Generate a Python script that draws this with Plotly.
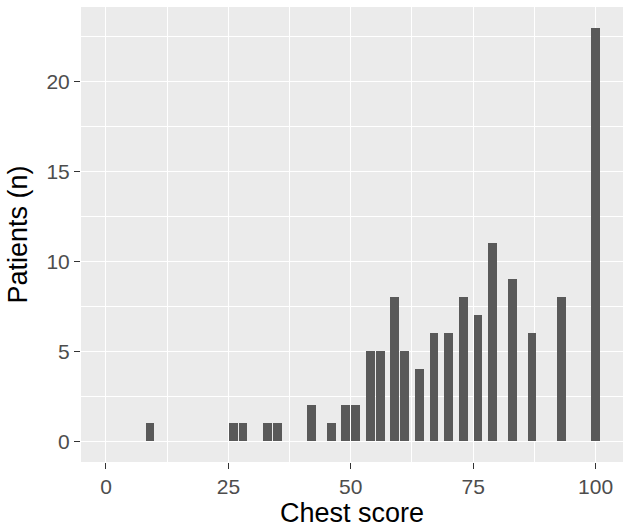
import plotly.graph_objects as go

chest_score = [9, 26, 28, 33, 35, 42, 46, 49, 51, 54, 56, 59, 61, 64, 67, 70, 73, 76, 79, 83, 87, 93, 100]
patients = [1, 1, 1, 1, 1, 2, 1, 2, 2, 5, 5, 8, 5, 4, 6, 6, 8, 7, 11, 9, 6, 8, 23]

x_ticks = [0, 25, 50, 75, 100]
y_ticks = [0, 5, 10, 15, 20]
x_minor = [12.5, 37.5, 62.5, 87.5]
y_minor = [2.5, 7.5, 12.5, 17.5, 22.5]
x_title = "Chest score"
y_title = "Patients (n)"

fig = go.Figure()
fig.add_trace(go.Bar(
    x=chest_score, y=patients, width=1.8,
    marker=dict(color="#595959", line=dict(width=0)),
))

font = "Liberation Sans, Arial, sans-serif"
fig.update_layout(
    width=623, height=532,
    margin=dict(l=81, r=0, t=7, b=70, autoexpand=False),
    paper_bgcolor="white", plot_bgcolor="#EBEBEB",
    showlegend=False, bargap=0,
    font=dict(family=font),
)
fig.update_xaxes(
    range=[-5.1, 105.6], tickvals=x_ticks, ticktext=[str(v) for v in x_ticks],
    ticks="outside", ticklen=6, tickwidth=1.1, tickcolor="#333333",
    tickfont=dict(size=21, color="#4D4D4D", family=font),
    showgrid=True, gridcolor="white", gridwidth=1.1, zeroline=False, showline=False,
    minor=dict(tickvals=x_minor, showgrid=True, gridcolor="white", gridwidth=0.55, ticks=""),
    automargin=False,
)
fig.update_yaxes(
    range=[-1.15, 24.15], tickvals=y_ticks, ticktext=[str(v) for v in y_ticks],
    ticks="outside", ticklen=6, tickwidth=1.1, tickcolor="#333333",
    tickfont=dict(size=21, color="#4D4D4D", family=font),
    showgrid=True, gridcolor="white", gridwidth=1.1, zeroline=False, showline=False,
    minor=dict(tickvals=y_minor, showgrid=True, gridcolor="white", gridwidth=0.55, ticks=""),
    automargin=False,
)
fig.add_annotation(
    text=x_title, xref="paper", yref="paper", x=0.5, y=0, xanchor="center", yanchor="middle",
    yshift=-51, showarrow=False, font=dict(size=27, color="black", family=font),
)
fig.add_annotation(
    text=y_title, xref="paper", yref="paper", x=0, y=0.5, xanchor="center", yanchor="middle",
    xshift=-64, textangle=-90, showarrow=False, font=dict(size=27, color="black", family=font),
)

fig.write_html(
    "out.html",
    config={"displayModeBar": False},
    post_script="document.body.style.margin='0';",
)
